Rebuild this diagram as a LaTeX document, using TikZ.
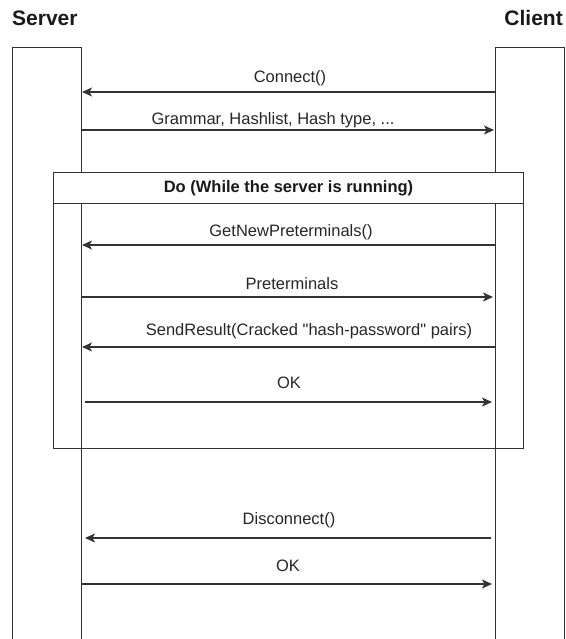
\documentclass[tikz,border=0pt]{standalone}
\usepackage{fontspec}
\setmainfont{Liberation Sans}
\usepackage{tikz}
\usetikzlibrary{arrows.meta}
\usepackage{xcolor}

\begin{document}
\begin{tikzpicture}[x=1pt,y=-1pt]
  \tikzset{actorname/.style={font=\fontsize{21}{25}\selectfont\bfseries,text=black!90,inner sep=0pt}}
  \tikzset{lifeline/.style={draw=black!80,line width=1pt,minimum width=69pt,minimum height=640pt,anchor=north,inner sep=0pt}}
  \tikzset{loopframe/.style={draw=black!80,line width=1pt,minimum width=470pt,anchor=north west,inner sep=0pt}}
  \tikzset{loophead/.style={loopframe,fill=white,minimum height=31pt,font=\fontsize{16.5}{20}\selectfont\bfseries,text=black!90}}
  \tikzset{msglabel/.style={font=\fontsize{16.5}{20}\selectfont,text=black!85,inner sep=0pt,anchor=base}}
  \tikzset{msgline/.style={draw=black!80,line width=1.2pt,-{Stealth[length=10pt,width=9pt,inset=2.5pt]}}}
  \useasboundingbox (0,0) rectangle (565,639);
  \clip (0,0) rectangle (565,639);
  \node[actorname,anchor=base west] (srvname) at (12.000,26.000) {Server};
  \node[actorname,anchor=base east] (cliname) at (563.000,26.000) {Client};
  \node[lifeline] (srv) at (46.500,47.000) {};
  \node[lifeline] (cli) at (529.500,47.000) {};
  \node[loopframe,minimum height=276pt] (loop) at (53.000,172.000) {};
  \node[loophead] (loophd) at (53.000,172.000) {Do (While the server is running)};
  \coordinate (c1) at (495.000,92.000);
  \coordinate (s1) at (82.000,92.000);
  \draw[msgline] (c1) -- (s1);
  \node[msglabel] (l1) at (290.000,83.000) {Connect()};
  \coordinate (s2) at (81.000,130.000);
  \coordinate (c2) at (494.000,130.000);
  \draw[msgline] (s2) -- (c2);
  \node[msglabel] (l2) at (273.000,125.000) {Grammar, Hashlist, Hash type, ...};
  \coordinate (c3) at (495.000,245.000);
  \coordinate (s3) at (82.000,245.000);
  \draw[msgline] (c3) -- (s3);
  \node[msglabel] (l3) at (291.000,236.000) {GetNewPreterminals()};
  \coordinate (s4) at (82.000,297.000);
  \coordinate (c4) at (493.000,297.000);
  \draw[msgline] (s4) -- (c4);
  \node[msglabel] (l4) at (292.000,289.000) {Preterminals};
  \coordinate (c5) at (495.000,347.000);
  \coordinate (s5) at (82.000,347.000);
  \draw[msgline] (c5) -- (s5);
  \node[msglabel] (l5) at (309.000,335.000) {SendResult(Cracked \textquotedbl hash-password\textquotedbl{} pairs)};
  \coordinate (s6) at (85.000,402.000);
  \coordinate (c6) at (492.000,402.000);
  \draw[msgline] (s6) -- (c6);
  \node[msglabel] (l6) at (289.000,388.000) {OK};
  \coordinate (c7) at (491.000,538.000);
  \coordinate (s7) at (85.000,538.000);
  \draw[msgline] (c7) -- (s7);
  \node[msglabel] (l7) at (289.000,524.000) {Disconnect()};
  \coordinate (s8) at (81.000,584.000);
  \coordinate (c8) at (492.000,584.000);
  \draw[msgline] (s8) -- (c8);
  \node[msglabel] (l8) at (288.000,571.000) {OK};
\end{tikzpicture}
\end{document}
